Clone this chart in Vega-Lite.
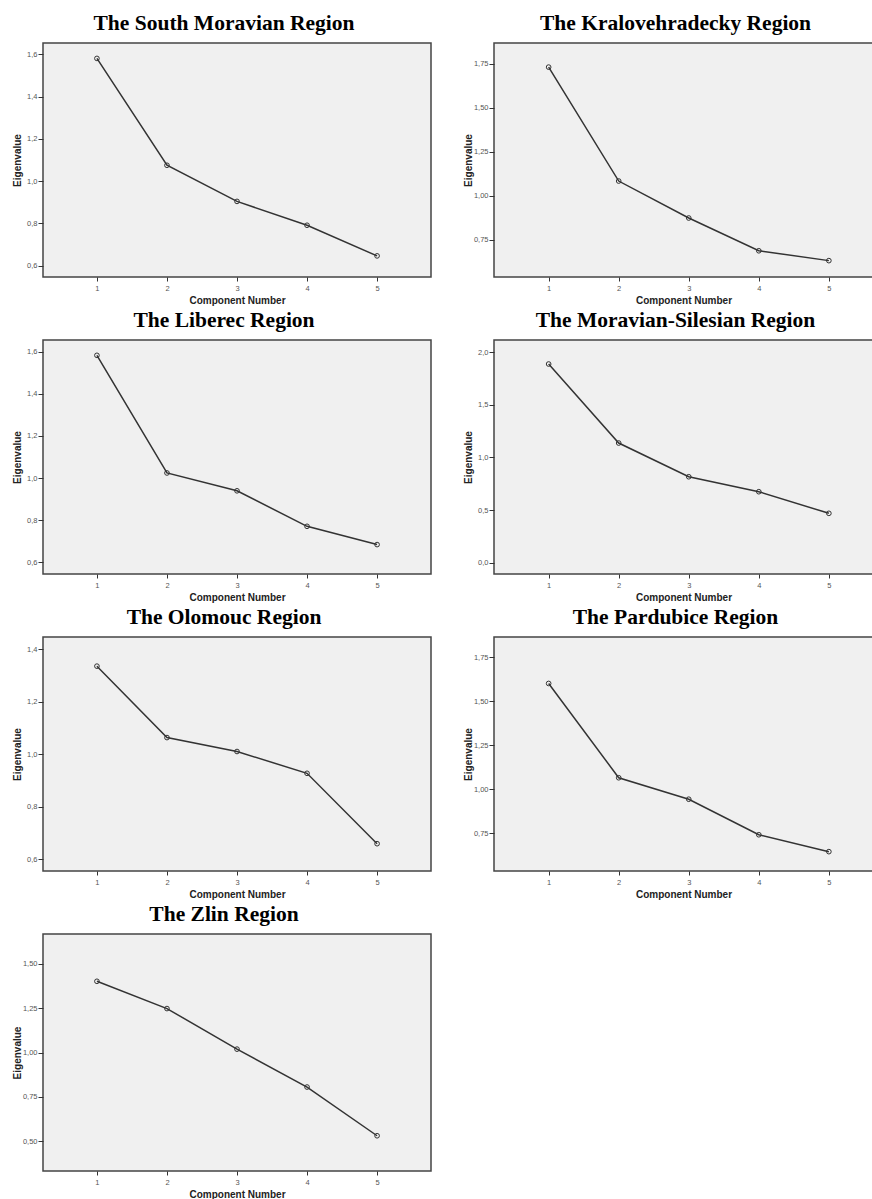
{
  "$schema": "https://vega.github.io/schema/vega-lite/v6.json",
  "padding": {"left": 11, "top": 11, "right": 0, "bottom": 0},
  "background": "white",
  "datasets": {
    "eig": [
      {"region": "South Moravian", "component": 1, "eigenvalue": 1.581},
      {"region": "South Moravian", "component": 2, "eigenvalue": 1.075},
      {"region": "South Moravian", "component": 3, "eigenvalue": 0.904},
      {"region": "South Moravian", "component": 4, "eigenvalue": 0.791},
      {"region": "South Moravian", "component": 5, "eigenvalue": 0.646},
      {"region": "Kralovehradecky", "component": 1, "eigenvalue": 1.731},
      {"region": "Kralovehradecky", "component": 2, "eigenvalue": 1.084},
      {"region": "Kralovehradecky", "component": 3, "eigenvalue": 0.874},
      {"region": "Kralovehradecky", "component": 4, "eigenvalue": 0.688},
      {"region": "Kralovehradecky", "component": 5, "eigenvalue": 0.632},
      {"region": "Liberec", "component": 1, "eigenvalue": 1.584},
      {"region": "Liberec", "component": 2, "eigenvalue": 1.024},
      {"region": "Liberec", "component": 3, "eigenvalue": 0.939},
      {"region": "Liberec", "component": 4, "eigenvalue": 0.770},
      {"region": "Liberec", "component": 5, "eigenvalue": 0.683},
      {"region": "Moravian-Silesian", "component": 1, "eigenvalue": 1.886},
      {"region": "Moravian-Silesian", "component": 2, "eigenvalue": 1.136},
      {"region": "Moravian-Silesian", "component": 3, "eigenvalue": 0.816},
      {"region": "Moravian-Silesian", "component": 4, "eigenvalue": 0.674},
      {"region": "Moravian-Silesian", "component": 5, "eigenvalue": 0.469},
      {"region": "Olomouc", "component": 1, "eigenvalue": 1.336},
      {"region": "Olomouc", "component": 2, "eigenvalue": 1.064},
      {"region": "Olomouc", "component": 3, "eigenvalue": 1.011},
      {"region": "Olomouc", "component": 4, "eigenvalue": 0.928},
      {"region": "Olomouc", "component": 5, "eigenvalue": 0.660},
      {"region": "Pardubice", "component": 1, "eigenvalue": 1.602},
      {"region": "Pardubice", "component": 2, "eigenvalue": 1.066},
      {"region": "Pardubice", "component": 3, "eigenvalue": 0.944},
      {"region": "Pardubice", "component": 4, "eigenvalue": 0.742},
      {"region": "Pardubice", "component": 5, "eigenvalue": 0.646},
      {"region": "Zlin", "component": 1, "eigenvalue": 1.402},
      {"region": "Zlin", "component": 2, "eigenvalue": 1.248},
      {"region": "Zlin", "component": 3, "eigenvalue": 1.019},
      {"region": "Zlin", "component": 4, "eigenvalue": 0.805},
      {"region": "Zlin", "component": 5, "eigenvalue": 0.530}
    ]
  },
  "columns": 2,
  "spacing": {"row": 63, "column": 63},
  "bounds": "flush",
  "concat": [
    {
      "title": {"text": "The South Moravian Region", "dx": -13},
      "width": 388, "height": 234,
      "data": {"name": "eig"},
      "transform": [{"filter": "datum.region == 'South Moravian'"}],
      "encoding": {
        "x": {"field": "component", "type": "quantitative", "scale": {"domain": [0.23, 5.77], "nice": false, "zero": false}, "axis": {"values": [1, 2, 3, 4, 5], "format": "d", "title": "Component Number"}},
        "y": {"field": "eigenvalue", "type": "quantitative", "scale": {"domain": [0.546, 1.654], "nice": false, "zero": false}, "axis": {"values": [0.6, 0.8, 1.0, 1.2, 1.4, 1.6], "title": "Eigenvalue", "labelExpr": "replace(format(datum.value, '.1f'), '.', ',')"}}
      },
      "layer": [
        {"mark": {"type": "line", "color": "#333333", "strokeWidth": 1.5}},
        {"mark": {"type": "point", "shape": "circle", "filled": false, "color": "#333333", "size": 22, "strokeWidth": 1, "opacity": 1}}
      ]
    },
    {
      "title": {"text": "The Kralovehradecky Region", "dx": -8},
      "width": 379, "height": 234,
      "data": {"name": "eig"},
      "transform": [{"filter": "datum.region == 'Kralovehradecky'"}],
      "encoding": {
        "x": {"field": "component", "type": "quantitative", "scale": {"domain": [0.22, 5.63], "nice": false, "zero": false}, "axis": {"values": [1, 2, 3, 4, 5], "format": "d", "title": "Component Number"}},
        "y": {"field": "eigenvalue", "type": "quantitative", "scale": {"domain": [0.539, 1.868], "nice": false, "zero": false}, "axis": {"values": [0.75, 1.0, 1.25, 1.5, 1.75], "title": "Eigenvalue", "labelExpr": "replace(format(datum.value, '.2f'), '.', ',')"}}
      },
      "layer": [
        {"mark": {"type": "line", "color": "#333333", "strokeWidth": 1.5}},
        {"mark": {"type": "point", "shape": "circle", "filled": false, "color": "#333333", "size": 22, "strokeWidth": 1, "opacity": 1}}
      ]
    },
    {
      "title": {"text": "The Liberec Region", "dx": -13},
      "width": 388, "height": 234,
      "data": {"name": "eig"},
      "transform": [{"filter": "datum.region == 'Liberec'"}],
      "encoding": {
        "x": {"field": "component", "type": "quantitative", "scale": {"domain": [0.23, 5.77], "nice": false, "zero": false}, "axis": {"values": [1, 2, 3, 4, 5], "format": "d", "title": "Component Number"}},
        "y": {"field": "eigenvalue", "type": "quantitative", "scale": {"domain": [0.543, 1.657], "nice": false, "zero": false}, "axis": {"values": [0.6, 0.8, 1.0, 1.2, 1.4, 1.6], "title": "Eigenvalue", "labelExpr": "replace(format(datum.value, '.1f'), '.', ',')"}}
      },
      "layer": [
        {"mark": {"type": "line", "color": "#333333", "strokeWidth": 1.5}},
        {"mark": {"type": "point", "shape": "circle", "filled": false, "color": "#333333", "size": 22, "strokeWidth": 1, "opacity": 1}}
      ]
    },
    {
      "title": {"text": "The Moravian-Silesian Region", "dx": -8},
      "width": 379, "height": 234,
      "data": {"name": "eig"},
      "transform": [{"filter": "datum.region == 'Moravian-Silesian'"}],
      "encoding": {
        "x": {"field": "component", "type": "quantitative", "scale": {"domain": [0.22, 5.63], "nice": false, "zero": false}, "axis": {"values": [1, 2, 3, 4, 5], "format": "d", "title": "Component Number"}},
        "y": {"field": "eigenvalue", "type": "quantitative", "scale": {"domain": [-0.107, 2.114], "nice": false, "zero": false}, "axis": {"values": [0, 0.5, 1.0, 1.5, 2.0], "title": "Eigenvalue", "labelExpr": "replace(format(datum.value, '.1f'), '.', ',')"}}
      },
      "layer": [
        {"mark": {"type": "line", "color": "#333333", "strokeWidth": 1.5}},
        {"mark": {"type": "point", "shape": "circle", "filled": false, "color": "#333333", "size": 22, "strokeWidth": 1, "opacity": 1}}
      ]
    },
    {
      "title": {"text": "The Olomouc Region", "dx": -13},
      "width": 388, "height": 234,
      "data": {"name": "eig"},
      "transform": [{"filter": "datum.region == 'Olomouc'"}],
      "encoding": {
        "x": {"field": "component", "type": "quantitative", "scale": {"domain": [0.23, 5.77], "nice": false, "zero": false}, "axis": {"values": [1, 2, 3, 4, 5], "format": "d", "title": "Component Number"}},
        "y": {"field": "eigenvalue", "type": "quantitative", "scale": {"domain": [0.556, 1.447], "nice": false, "zero": false}, "axis": {"values": [0.6, 0.8, 1.0, 1.2, 1.4], "title": "Eigenvalue", "labelExpr": "replace(format(datum.value, '.1f'), '.', ',')"}}
      },
      "layer": [
        {"mark": {"type": "line", "color": "#333333", "strokeWidth": 1.5}},
        {"mark": {"type": "point", "shape": "circle", "filled": false, "color": "#333333", "size": 22, "strokeWidth": 1, "opacity": 1}}
      ]
    },
    {
      "title": {"text": "The Pardubice Region", "dx": -8},
      "width": 379, "height": 234,
      "data": {"name": "eig"},
      "transform": [{"filter": "datum.region == 'Pardubice'"}],
      "encoding": {
        "x": {"field": "component", "type": "quantitative", "scale": {"domain": [0.22, 5.63], "nice": false, "zero": false}, "axis": {"values": [1, 2, 3, 4, 5], "format": "d", "title": "Component Number"}},
        "y": {"field": "eigenvalue", "type": "quantitative", "scale": {"domain": [0.536, 1.866], "nice": false, "zero": false}, "axis": {"values": [0.75, 1.0, 1.25, 1.5, 1.75], "title": "Eigenvalue", "labelExpr": "replace(format(datum.value, '.2f'), '.', ',')"}}
      },
      "layer": [
        {"mark": {"type": "line", "color": "#333333", "strokeWidth": 1.5}},
        {"mark": {"type": "point", "shape": "circle", "filled": false, "color": "#333333", "size": 22, "strokeWidth": 1, "opacity": 1}}
      ]
    },
    {
      "title": {"text": "The Zlin Region", "dx": -13},
      "width": 388, "height": 237,
      "data": {"name": "eig"},
      "transform": [{"filter": "datum.region == 'Zlin'"}],
      "encoding": {
        "x": {"field": "component", "type": "quantitative", "scale": {"domain": [0.23, 5.77], "nice": false, "zero": false}, "axis": {"values": [1, 2, 3, 4, 5], "format": "d", "title": "Component Number"}},
        "y": {"field": "eigenvalue", "type": "quantitative", "scale": {"domain": [0.331, 1.669], "nice": false, "zero": false}, "axis": {"values": [0.5, 0.75, 1.0, 1.25, 1.5], "title": "Eigenvalue", "labelExpr": "replace(format(datum.value, '.2f'), '.', ',')"}}
      },
      "layer": [
        {"mark": {"type": "line", "color": "#333333", "strokeWidth": 1.5}},
        {"mark": {"type": "point", "shape": "circle", "filled": false, "color": "#333333", "size": 22, "strokeWidth": 1, "opacity": 1}}
      ]
    }
  ],
  "config": {
    "view": {"fill": "#f0f0f0", "stroke": "#444444", "strokeWidth": 1.5},
    "axis": {
      "domain": false, "grid": false,
      "tickColor": "#333333", "tickWidth": 1,
      "labelFont": "Liberation Sans", "labelFontSize": 7.5, "labelColor": "#555555",
      "titleFont": "Liberation Sans", "titleFontSize": 10, "titleFontWeight": "bold", "titleColor": "#222222"
    },
    "axisY": {"tickSize": 5, "labelPadding": 1, "titlePadding": 2, "minExtent": 19, "maxExtent": 19},
    "axisX": {"tickSize": 4, "labelPadding": 3, "titlePadding": 4},
    "title": {"font": "Liberation Serif", "fontSize": 21.5, "fontWeight": "bold", "color": "#000000", "offset": 9, "baseline": "alphabetic", "anchor": "middle"}
  }
}
